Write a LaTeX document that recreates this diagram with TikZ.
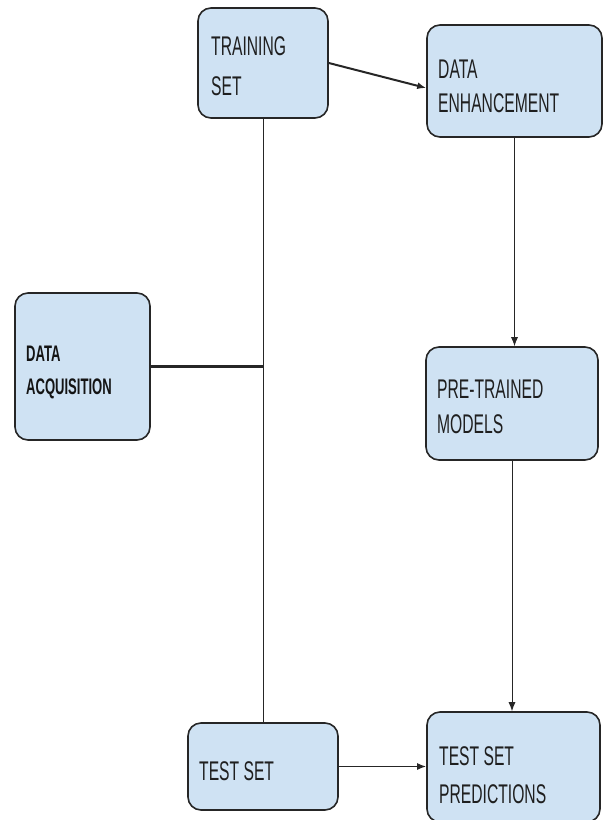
\documentclass[tikz,border=0pt]{standalone}
\usepackage{fontspec}
\setmainfont{Liberation Sans}[FakeStretch=0.58]
\usetikzlibrary{arrows.meta,calc}
\definecolor{boxfill}{HTML}{CFE2F3}
\definecolor{boxdraw}{HTML}{262626}
\begin{document}
\begin{tikzpicture}[x=1pt,y=-1pt,
  box/.style={draw=boxdraw,fill=boxfill,line width=1.6pt,rounded corners=13pt,inner sep=0pt},
  lbl/.style={anchor=base west,inner sep=0pt,text=black!88,font=\fontsize{27}{30}\selectfont},
  blbl/.style={anchor=base west,inner sep=0pt,text=black!92,font=\fontsize{22.5}{25}\selectfont\bfseries},
  conn/.style={draw=black!85,line width=1.1pt},
  tip/.style={-{Latex[length=9pt,width=7pt]}}]
\useasboundingbox (0,0) rectangle (603,820);
% boxes
\node[box,minimum width=130pt,minimum height=110pt] (tr) at (263,63) {};
\node[box,minimum width=175pt,minimum height=112pt] (de) at (514.5,81) {};
\node[box,minimum width=135pt,minimum height=147pt] (acq) at (82.5,366.5) {};
\node[box,minimum width=172pt,minimum height=113pt] (pt) at (512,403.5) {};
\node[box,minimum width=150pt,minimum height=87pt] (tst) at (263,766.5) {};
\node[box,minimum width=173pt,minimum height=110pt] (tsp) at (513.5,767) {};
% texts
\node[lbl] (t1) at (211,55) {TRAINING};
\node[lbl] (t2) at (211,95) {SET};
\node[lbl] (d1) at (438,78) {DATA};
\node[lbl] (d2) at (438,112) {ENHANCEMENT};
\node[blbl] (a1) at (26,361) {DATA};
\node[blbl] (a2) at (26,394) {ACQUISITION};
\node[lbl] (p1) at (437,398) {PRE-TRAINED};
\node[lbl] (p2) at (437,433) {MODELS};
\node[lbl] (s1) at (199,780) {TEST SET};
\node[lbl] (q1) at (439,765) {TEST SET};
\node[lbl] (q2) at (439,803) {PREDICTIONS};
% connectors
\draw[conn,line width=2pt,tip] (tr.east) -- ($(de.west)+(0,7)$);
\draw[conn,line width=0.9pt] (tr.south) -- (tst.north);
\draw[conn,line width=3pt] (acq.east) -- (acq.east -| tr.south);
\draw[conn,line width=0.9pt,tip] (de.south) -- (de.south |- pt.north);
\draw[conn,line width=0.9pt,tip] (pt.south) -- (pt.south |- tsp.north);
\draw[conn,line width=1.5pt,tip] (tst.east) -- (tst.east -| tsp.west);
\end{tikzpicture}
\end{document}
